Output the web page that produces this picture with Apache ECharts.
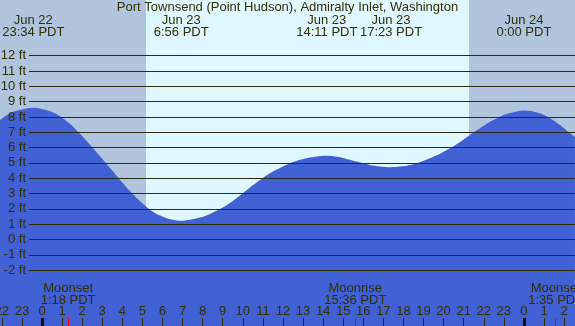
<!DOCTYPE html>
<html><head><meta charset="utf-8">
<script src="https://cdn.jsdelivr.net/npm/echarts@6/dist/echarts.min.js"></script>
<style>html,body{margin:0;padding:0;background:#B0C4DE}#c{width:575px;height:326px}</style>
</head><body><div id="c"></div>
<script>
// ---- data ----
const tideHours = [-2.09, -1.59, -1.10, -0.43, 0.40, 0.90, 1.39, 1.89, 2.39, 2.89, 3.39, 3.88, 4.38, 4.88,
  5.38, 5.88, 6.37, 6.93, 7.37, 7.87, 8.37, 8.86, 9.36, 9.86, 10.36, 10.86, 11.35, 11.85, 12.35, 12.85,
  13.35, 13.84, 14.18, 14.84, 15.34, 15.84, 16.33, 16.83, 17.38, 17.83, 18.33, 18.82, 19.32, 19.82,
  20.32, 20.82, 21.31, 21.81, 22.31, 22.81, 23.31, 24.0, 24.80, 25.30, 25.80, 26.29, 26.54];
const tideFeet = [7.8, 8.24, 8.45, 8.6, 8.37, 8.05, 7.55, 6.9, 6.18, 5.43, 4.66, 3.9, 3.16, 2.5,
  1.95, 1.56, 1.32, 1.22, 1.29, 1.43, 1.67, 1.99, 2.39, 2.88, 3.4, 3.88, 4.32, 4.67, 4.97, 5.2,
  5.35, 5.44, 5.46, 5.37, 5.2, 5.02, 4.87, 4.77, 4.72, 4.76, 4.87, 5.05, 5.3, 5.6,
  5.95, 6.37, 6.82, 7.26, 7.68, 8.02, 8.25, 8.42, 8.24, 7.92, 7.47, 6.93, 6.7];
const tideEventHours = [-0.433, 6.933, 14.183, 17.383, 24.0];
const tideEventLabels = ['Jun 22\n23:34 PDT', 'Jun 23\n6:56 PDT', 'Jun 23\n14:11 PDT', 'Jun 23\n17:23 PDT', 'Jun 24\n0:00 PDT'];
const hourTicks = [-3,-2,-1,0,1,2,3,4,5,6,7,8,9,10,11,12,13,14,15,16,17,18,19,20,21,22,23,24,25,26,27];
const midnightHours = [0, 24];
const moonHours = [1.3, 15.6, 25.583];
const moonLabels = ['Moonset\n1:18 PDT', 'Moonrise\n15:36 PDT', 'Moonset\n1:35 PDT'];
const sunriseHour = 5.18;
const sunsetHour = 21.27;
const feetMin = -2, feetMax = 12;
const titleText = 'Port Townsend (Point Hudson), Admiralty Inlet, Washington';

// ---- layout / style ----
const X_MIN = -2.0916, X_MAX = 26.544;
const PX_PER_H = 575 / (X_MAX - X_MIN);
const GRID1_LEFT = 29;
const X1_MIN = X_MIN + GRID1_LEFT / PX_PER_H;
const Y_MIN = -5.646, Y_MAX = 15.633;
const TXT = '#303000', LINE = '#2b2b10';
const NIGHT = '#B0C4DE', DAY = '#DFF8FF', WATER = '#4060D4';
const FONT = '"Liberation Sans", Arial, sans-serif';

function nearestLabel(v, vals, labels) {
  let bi = 0;
  vals.forEach((x, i) => { if (Math.abs(x - v) < Math.abs(vals[bi] - v)) bi = i; });
  return labels[bi];
}

const bands = [[X_MIN, sunriseHour, 0], [sunriseHour, sunsetHour, 1], [sunsetHour, X_MAX, 0]];
const noLine = {show: false, onZero: false};

const chart = echarts.init(document.getElementById('c'), null, {renderer: 'canvas'});
chart.setOption({
  animation: false,
  backgroundColor: NIGHT,
  textStyle: {fontFamily: FONT},
  title: {text: titleText, left: 'center', top: 1, padding: 0,
    textStyle: {fontSize: 13, fontWeight: 'normal', color: TXT, fontFamily: FONT}},
  grid: [
    {left: 0, right: 0, top: 0, bottom: 0, outerBoundsMode: 'none', containLabel: false},
    {left: GRID1_LEFT, right: 0, top: 55.7, bottom: 55.9, outerBoundsMode: 'none', containLabel: false}
  ],
  xAxis: [
    {type: 'value', gridIndex: 0, min: X_MIN, max: X_MAX, position: 'bottom', z: 5,
      axisLine: noLine, splitLine: {show: false},
      axisTick: {show: true, customValues: hourTicks, inside: true, length: 8, lineStyle: {color: LINE, width: 1}},
      axisLabel: {show: true, customValues: hourTicks, inside: true, margin: 8, fontSize: 13, color: TXT,
        alignMinLabel: 'center', alignMaxLabel: 'center', hideOverlap: false,
        fontFamily: FONT, formatter: v => String(((Math.round(v) % 24) + 24) % 24)}},
    {type: 'value', gridIndex: 0, min: X_MIN, max: X_MAX, position: 'bottom', z: 6,
      axisLine: noLine, splitLine: {show: false},
      axisTick: {show: true, customValues: midnightHours, inside: true, length: 8, lineStyle: {color: '#111100', width: 3}},
      axisLabel: {show: false}},
    {type: 'value', gridIndex: 0, min: X_MIN, max: X_MAX, position: 'bottom', z: 6,
      axisLine: noLine, splitLine: {show: false},
      axisTick: {show: true, customValues: moonHours, inside: true, length: 8, lineStyle: {color: '#FF0000', width: 1}},
      axisLabel: {show: true, customValues: moonHours, inside: true, margin: 20, fontSize: 13, lineHeight: 12,
        alignMinLabel: 'center', alignMaxLabel: 'center',
        color: TXT, fontFamily: FONT, formatter: v => nearestLabel(v, moonHours, moonLabels)}},
    {type: 'value', gridIndex: 1, min: X1_MIN, max: X_MAX, position: 'top', z: 6,
      axisLine: noLine, splitLine: {show: false}, axisTick: {show: false},
      axisLabel: {show: true, customValues: tideEventHours, margin: 17, fontSize: 13, lineHeight: 12,
        alignMinLabel: 'center', alignMaxLabel: 'center',
        color: TXT, fontFamily: FONT, formatter: v => nearestLabel(v, tideEventHours, tideEventLabels)}}
  ],
  yAxis: [
    {type: 'value', gridIndex: 0, min: Y_MIN, max: Y_MAX, show: false},
    {type: 'value', gridIndex: 1, min: feetMin, max: feetMax, interval: 1, z: 4,
      axisLine: noLine, axisTick: {show: false},
      splitLine: {show: true, lineStyle: {color: LINE, width: 1}},
      axisLabel: {margin: 3, fontSize: 13, color: TXT, fontFamily: FONT, formatter: '{value} ft'}}
  ],
  series: [
    {type: 'custom', xAxisIndex: 0, yAxisIndex: 0, z: 1, silent: true, data: bands,
      renderItem: (params, api) => {
        const p1 = api.coord([api.value(0), Y_MAX]);
        const p2 = api.coord([api.value(1), Y_MIN]);
        return {type: 'rect', shape: {x: p1[0], y: p1[1], width: p2[0] - p1[0], height: p2[1] - p1[1]},
          style: {fill: api.value(2) === 1 ? DAY : NIGHT}};
      }},
    {type: 'line', xAxisIndex: 0, yAxisIndex: 0, z: 2, silent: true, showSymbol: false, smooth: 0.3,
      data: tideHours.map((h, i) => [h, tideFeet[i]]),
      lineStyle: {width: 0}, areaStyle: {color: WATER, opacity: 1, origin: 'start'}}
  ]
});
</script></body></html>
